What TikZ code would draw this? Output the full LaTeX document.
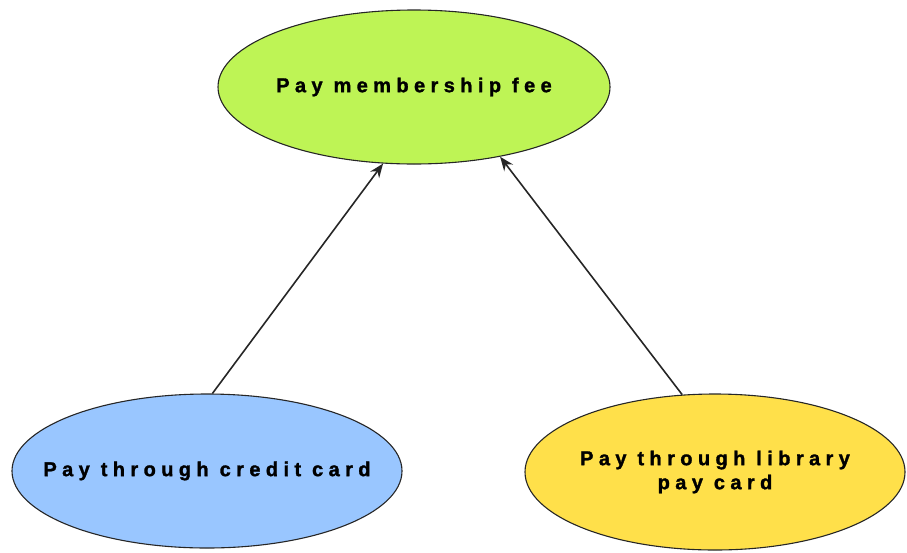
\documentclass[tikz,border=0pt]{standalone}
\usepackage{fontspec}
\setsansfont{Liberation Sans}
\newfontfamily\lblfont[LetterSpace=27,FakeBold=1.5]{Liberation Sans Bold}
\usetikzlibrary{shapes.geometric,arrows.meta}
\definecolor{topgreen}{HTML}{BEF455}
\definecolor{leftblue}{HTML}{99C6FF}
\definecolor{rightyellow}{HTML}{FFE04A}
\newcommand{\ctrline}[1]{\makebox[0pt]{#1}}
\tikzset{
  usecase/.style={ellipse, draw=black!85, line width=1.1pt, inner sep=0pt,
    minimum width=392pt, minimum height=154pt, align=center,
    font=\lblfont\fontsize{20pt}{24pt}\selectfont},
  conn/.style={draw=black!85, line width=1.6pt, -{Stealth[length=14pt,width=11pt]}}
}
\begin{document}
\begin{tikzpicture}[x=1pt,y=-1pt]
\useasboundingbox (0,0) rectangle (907,552);
\node[usecase, fill=topgreen] (t) at (414,87) {\ctrline{Pay membership fee}};
\node[usecase, fill=leftblue, minimum width=390pt] (l) at (207,471) {\ctrline{Pay through credit card}};
\node[usecase, fill=rightyellow, minimum width=380pt, minimum height=156pt] (r) at (715,472) {\ctrline{Pay through library}\\\ctrline{pay card}};
\draw[conn] (l.86) -- (t.248);
\draw[conn] (r.113) -- (t.321);
\end{tikzpicture}
\end{document}
